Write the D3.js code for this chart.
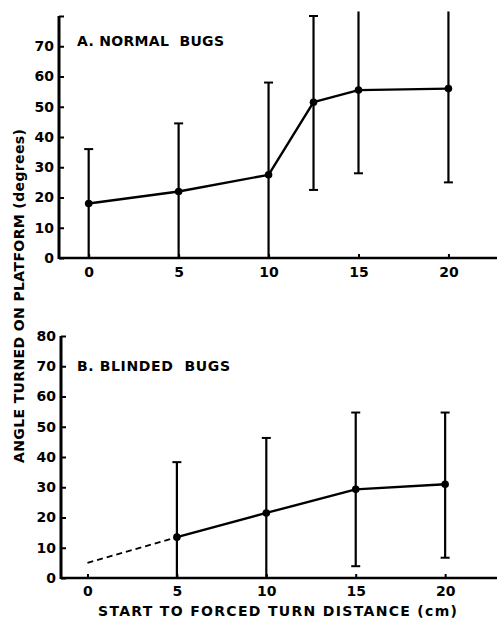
<!DOCTYPE html>
<html><head><meta charset="utf-8">
<script src="https://cdn.jsdelivr.net/npm/d3@7"></script>
<style>
html,body{margin:0;padding:0;background:#fff;}
text{font-family:"DejaVu Sans",sans-serif;font-weight:bold;fill:#000;}
</style></head>
<body><svg id="c" width="497" height="620"></svg>
<script>
// Panel A: normal bugs
const distA  = [0, 5, 10, 12.5, 15, 20];
const meanA  = [18, 22, 27.5, 51.5, 55.5, 56];
const upperA = [36, 44.5, 58, 80, 81.5, 81.5];
const lowerA = [0, 0, 0, 22.5, 28, 25];
// Panel B: blinded bugs
const distB  = [5, 10, 15, 20];
const meanB  = [13.5, 21.5, 29.3, 31];
const upperB = [38.3, 46.3, 54.7, 54.7];
const lowerB = [0, 0, 3.9, 6.7];
const dashDistB = [0, 5];
const dashMeanB = [5, 13.5];
// ticks
const xTicks = [0, 5, 10, 15, 20];
const yTicksA = [0, 10, 20, 30, 40, 50, 60, 70, 80];
const yLabelsA = ["0","10","20","30","40","50","60","70",""];
const yTicksB = [0, 10, 20, 30, 40, 50, 60, 70, 80];
const yLabelsB = ["0","10","20","30","40","50","60","70","80"];
const titleA = "A. NORMAL  BUGS";
const titleB = "B. BLINDED  BUGS";
const yTitle = "ANGLE TURNED ON PLATFORM (degrees)";
const xTitle = "START TO FORCED TURN DISTANCE (cm)";

const svg = d3.select("#c");

function panel(cfg){
  const g = svg.append("g");
  const x = d3.scaleLinear().domain(cfg.xDom).range([cfg.left, 497]);
  const y = d3.scaleLinear().domain([0, 80]).range([cfg.bottom, cfg.top]);
  const ya = d3.axisLeft(y).tickValues(cfg.yTicks).tickSize(-5).tickPadding(5)
    .tickFormat((d,i)=>cfg.yLabels[i]);
  const gy = g.append("g").attr("transform",`translate(${cfg.left},0)`).call(ya);
  const xa = d3.axisBottom(x).tickValues(xTicks).tickSize(-4).tickPadding(cfg.xPad)
    .tickFormat(d3.format("d"));
  const gx = g.append("g").attr("transform",`translate(0,${cfg.bottom})`).call(xa);
  [gx, gy].forEach(a=>{
    a.select(".domain").remove();
    a.selectAll(".tick line").attr("stroke","#000").attr("stroke-width",2);
    a.selectAll(".tick text").style("font-size","14px").style("font-family","'DejaVu Sans',sans-serif").style("font-weight","bold").attr("fill","#000");
  });
  g.append("line").attr("x1",cfg.left).attr("x2",cfg.left).attr("y1",y(80)).attr("y2",cfg.bottom+1)
    .attr("stroke","#000").attr("stroke-width",3);
  g.append("line").attr("x1",cfg.left).attr("x2",497).attr("y1",cfg.bottom).attr("y2",cfg.bottom)
    .attr("stroke","#000").attr("stroke-width",2.5);
  const n = cfg.dist.length;
  for(let i=0;i<n;i++){
    const cx = x(cfg.dist[i]);
    g.append("line").attr("x1",cx).attr("x2",cx).attr("y1",y(cfg.upper[i])).attr("y2",y(cfg.lower[i]))
      .attr("stroke","#000").attr("stroke-width",2.2);
    if(cfg.upper[i] <= 80){
      g.append("line").attr("x1",cx-4.5).attr("x2",cx+4.5).attr("y1",y(cfg.upper[i])).attr("y2",y(cfg.upper[i]))
        .attr("stroke","#000").attr("stroke-width",2);
    }
    if(cfg.lower[i] > 0){
      g.append("line").attr("x1",cx-4.5).attr("x2",cx+4.5).attr("y1",y(cfg.lower[i])).attr("y2",y(cfg.lower[i]))
        .attr("stroke","#000").attr("stroke-width",2);
    }
  }
  if(cfg.dashDist){
    const dl = d3.line().x((d,i)=>x(cfg.dashDist[i])).y((d,i)=>y(cfg.dashMean[i]));
    g.append("path").attr("d",dl(cfg.dashDist)).attr("fill","none").attr("stroke","#000")
      .attr("stroke-width",1.8).attr("stroke-dasharray","6,4");
  }
  const line = d3.line().x((d,i)=>x(cfg.dist[i])).y((d,i)=>y(cfg.mean[i]));
  g.append("path").attr("d",line(cfg.dist)).attr("fill","none").attr("stroke","#000")
    .attr("stroke-width",2.4).attr("stroke-linejoin","round");
  g.selectAll("circle.m").data(cfg.dist).enter().append("circle")
    .attr("cx",(d)=>x(d)).attr("cy",(d,i)=>y(cfg.mean[i])).attr("r",3.8).attr("fill","#000");
  g.append("text").attr("x",cfg.titleX).attr("y",cfg.titleY).style("font-size","14px")
    .attr("textLength",cfg.titleLen).attr("lengthAdjust","spacing")
    .attr("xml:space","preserve").style("white-space","pre").text(cfg.title);
}

panel({xDom:[-1.65,22.7], left:59, top:16, bottom:258, xPad:9,
  yTicks:yTicksA, yLabels:yLabelsA, dist:distA, mean:meanA, upper:upperA, lower:lowerA,
  title:titleA, titleX:77, titleY:46, titleLen:147});
panel({xDom:[-1.48,22.9], left:61, top:336, bottom:578, xPad:8,
  yTicks:yTicksB, yLabels:yLabelsB, dist:distB, mean:meanB, upper:upperB, lower:lowerB,
  dashDist:dashDistB, dashMean:dashMeanB,
  title:titleB, titleX:77, titleY:371, titleLen:153});

svg.append("text").attr("transform","translate(24,296) rotate(-90)").attr("text-anchor","middle")
  .style("font-size","14px").attr("textLength",334).attr("lengthAdjust","spacing").text(yTitle);
svg.append("text").attr("x",277.5).attr("y",616).attr("text-anchor","middle")
  .style("font-size","14px").attr("textLength",359).attr("lengthAdjust","spacing").text(xTitle);
</script></body></html>
